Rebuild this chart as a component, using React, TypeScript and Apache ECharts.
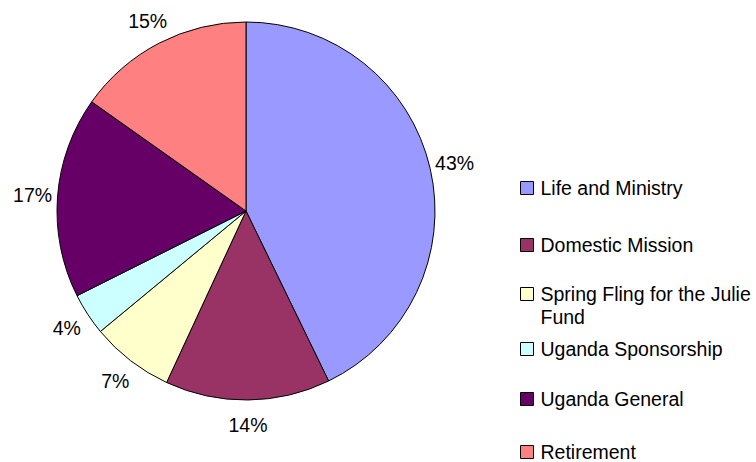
import React, { useEffect, useRef } from "react";
import * as echarts from "echarts";

const categories = [
  "Life and Ministry",
  "Domestic Mission",
  "Spring Fling for the Julie Fund",
  "Uganda Sponsorship",
  "Uganda General",
  "Retirement",
];
const values = [42.8, 14.1, 7.1, 3.6, 17.2, 15.2];
const colors = ["#9999FF", "#993366", "#FFFFCC", "#CCFFFF", "#660066", "#FF8080"];
const legendLabels = [
  "Life and Ministry",
  "Domestic Mission",
  "\nSpring Fling for the Julie\nFund",
  "Uganda Sponsorship",
  "Uganda General",
  "Retirement",
];
const legendCenters = [188, 245, 294, 349, 399, 452];

const FONT = "'Liberation Sans', Arial, Helvetica, sans-serif";
const FS = 19.5;
const LH = 23;

export default function App() {
  const ref = useRef<HTMLDivElement>(null);
  useEffect(() => {
    if (!ref.current) return;
    const chart = echarts.init(ref.current, null, { renderer: "svg" });
    const legends = categories.map((name, i) => {
      const lines = legendLabels[i].split("\n").length;
      const boxH = LH * lines;
      return {
        orient: "vertical",
        left: 520,
        top: legendCenters[i] - boxH / 2,
        padding: 0,
        itemWidth: 13,
        itemHeight: 13,
        selectedMode: false,
        data: [name],
        icon: "rect",
        itemStyle: { borderColor: "#000", borderWidth: 1 },
        formatter: () => legendLabels[i],
        textStyle: {
          fontFamily: FONT,
          fontSize: FS,
          color: "#000",
          lineHeight: LH,
          padding: [0, 0, 0, 2],
        },
      };
    });
    const data = categories.map((name, i) => ({ name, value: values[i] }));
    chart.setOption({
      animation: false,
      backgroundColor: "#fff",
      color: colors,
      legend: legends,
      series: [
        {
          type: "pie",
          center: [246, 211],
          radius: 189,
          startAngle: 90,
          clockwise: true,
          avoidLabelOverlap: false,
          data,
          itemStyle: { borderColor: "#000", borderWidth: 1 },
          label: { show: false },
          labelLine: { show: false },
          emphasis: { disabled: true },
          silent: true,
        },
        {
          type: "pie",
          center: [246, 211],
          radius: [200, 222],
          startAngle: 90,
          clockwise: true,
          avoidLabelOverlap: false,
          data,
          itemStyle: { color: "rgba(0,0,0,0)", borderWidth: 0 },
          label: {
            show: true,
            position: "inside",
            rotate: 0,
            formatter: (p: any) => `${Math.round(p.value)}%`,
            fontFamily: FONT,
            fontSize: FS,
            color: "#000",
          },
          labelLine: { show: false },
          emphasis: { disabled: true },
          silent: true,
        },
      ],
    });
    return () => chart.dispose();
  }, []);
  return (
    <div
      ref={ref}
      style={{ position: "fixed", left: 0, top: 0, width: 756, height: 462 }}
    />
  );
}
